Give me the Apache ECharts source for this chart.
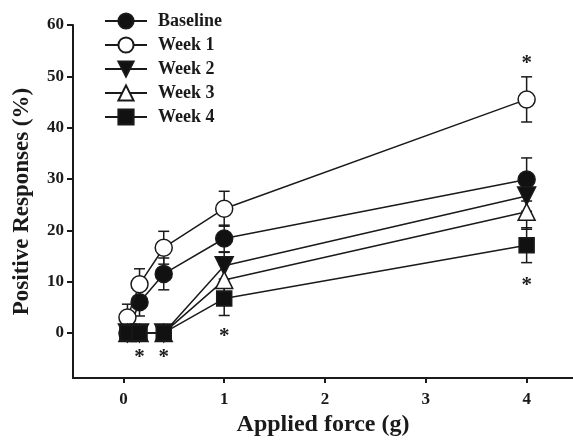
<!DOCTYPE html>
<html>
<head>
<meta charset="utf-8">
<script src="https://cdn.jsdelivr.net/npm/echarts@6/dist/echarts.min.js"></script>
<style>
  html, body { margin: 0; padding: 0; background: #fff; }
  #main { width: 573px; height: 442px; }
</style>
</head>
<body>
<div id="main"></div>
<script>
  // applied force (g) of each filament
  var forces = [0.04, 0.16, 0.4, 1, 4]

  var baseline = [0, 6.0, 11.5, 18.4, 29.9]
  var baselineSe = [0, 2.7, 3.1, 2.6, 4.2]
  var week1 = [3.0, 9.5, 16.6, 24.2, 45.5]
  var week1Se = [2.6, 3.0, 3.2, 3.4, 4.4]
  var week2 = [0, 0, 0, 13.1, 26.7]
  var week2Se = [0, 0, 0, 2.6, 3.0]
  var week3 = [0, 0, 0, 10.3, 23.6]
  var week3Se = [0, 0, 0, 3.0, 3.4]
  var week4 = [0, 0, 0, 6.7, 17.1]
  var week4Se = [0, 0, 0, 3.3, 3.4]

  // significance stars
  var starX = [0.16, 0.4, 1, 4, 4]
  var starY = [-4.1, -4.1, 0, 53.2, 10.1]

  var xTicks = [0, 1, 2, 3, 4]
  var yTicks = [0, 10, 20, 30, 40, 50, 60]

  var names = ['Baseline', 'Week 1', 'Week 2', 'Week 3', 'Week 4']
  var means = [baseline, week1, week2, week3, week4]
  var ses = [baselineSe, week1Se, week2Se, week3Se, week4Se]
  var downTri = 'path://M0,0 L10,0 L5,9 Z'
  var marks = [
    { symbol: 'circle', size: 17, fill: '#111' },
    { symbol: 'circle', size: 17, fill: '#fff' },
    { symbol: downTri, size: 18, fill: '#111' },
    { symbol: 'triangle', size: 17, fill: '#fff' },
    { symbol: 'rect', size: 15, fill: '#111' },
  ]

  var myChart = echarts.init(document.getElementById('main'))
  var ink = '#1a1a1a'
  var serif = '"Liberation Serif", "Times New Roman", serif'

  var series = []
  // error bars first so that markers cover them
  names.forEach(function (name, k) {
    var bars = []
    forces.forEach(function (f, i) {
      if (ses[k][i] > 0) bars.push([f, means[k][i] - ses[k][i], means[k][i] + ses[k][i]])
    })
    series.push({
      type: 'custom',
      silent: true,
      z: 1,
      data: bars,
      renderItem: function (params, api) {
        var lo = api.coord([api.value(0), api.value(1)])
        var hi = api.coord([api.value(0), api.value(2)])
        var w = 5.5
        var st = { stroke: ink, lineWidth: 1.5 }
        return {
          type: 'group',
          children: [
            { type: 'line', shape: { x1: lo[0], y1: lo[1], x2: hi[0], y2: hi[1] }, style: st },
            { type: 'line', shape: { x1: lo[0] - w, y1: lo[1], x2: lo[0] + w, y2: lo[1] }, style: st },
            { type: 'line', shape: { x1: hi[0] - w, y1: hi[1], x2: hi[0] + w, y2: hi[1] }, style: st },
          ],
        }
      },
    })
  })
  names.forEach(function (name, k) {
    series.push({
      name: name,
      type: 'line',
      z: 2 + k,
      symbol: marks[k].symbol,
      symbolSize: marks[k].size,
      showAllSymbol: true,
      data: forces.map(function (f, i) { return [f, means[k][i]] }),
      lineStyle: { color: ink, width: 1.5 },
      itemStyle: { color: marks[k].fill, borderColor: ink, borderWidth: 1.5, opacity: 1 },
      emphasis: { disabled: true },
      animation: false,
    })
  })
  series.push({
    type: 'custom',
    silent: true,
    z: 10,
    data: starX.map(function (x, i) { return [x, starY[i]] }),
    renderItem: function (params, api) {
      var p = api.coord([api.value(0), api.value(1)])
      return {
        type: 'text',
        x: p[0],
        y: p[1] + 4,
        style: {
          text: '*',
          fill: ink,
          font: 'bold 21px ' + serif,
          align: 'center',
          verticalAlign: 'middle',
        },
      }
    },
  })

  var option = {
    animation: false,
    grid: { left: 73, right: 0, top: 25, bottom: 63 },
    legend: {
      data: names,
      orient: 'vertical',
      left: 99,
      top: 7,
      itemWidth: 42,
      itemHeight: 19,
      itemGap: 6,
      textStyle: {
        fontFamily: serif, fontWeight: 'bold', fontSize: 18, color: ink,
        padding: [0, 0, 0, 6],
      },
    },
    xAxis: {
      type: 'value',
      min: -0.5,
      max: 4.46,
      name: 'Applied force (g)',
      nameLocation: 'middle',
      nameGap: 34,
      nameTextStyle: { fontFamily: serif, fontWeight: 'bold', fontSize: 24, color: ink },
      axisLine: { show: true, onZero: false, lineStyle: { color: ink, width: 2 } },
      axisTick: { show: true, length: 5, lineStyle: { color: ink, width: 2 }, customValues: xTicks },
      axisLabel: {
        fontFamily: serif, fontWeight: 'bold', fontSize: 17, color: ink, margin: 13,
        customValues: xTicks,
      },
      splitLine: { show: false },
    },
    yAxis: {
      type: 'value',
      min: -8.8,
      max: 60,
      name: 'Positive Responses (%)',
      nameLocation: 'middle',
      nameGap: 39,
      nameTextStyle: { fontFamily: serif, fontWeight: 'bold', fontSize: 23, color: ink },
      axisLine: { show: true, onZero: false, lineStyle: { color: ink, width: 2 } },
      axisTick: { show: true, length: 6, lineStyle: { color: ink, width: 2 }, customValues: yTicks },
      axisLabel: {
        fontFamily: serif, fontWeight: 'bold', fontSize: 17, color: ink, margin: 9,
        customValues: yTicks,
      },
      splitLine: { show: false },
    },
    series: series,
  }
  myChart.setOption(option)
  window.addEventListener('resize', function () {
    myChart.resize()
  })
</script>
</body>
</html>
